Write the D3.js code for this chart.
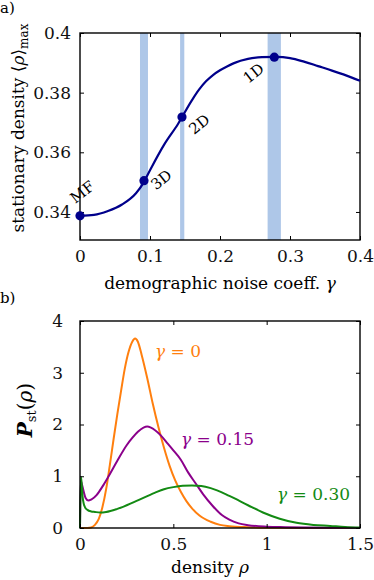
<!DOCTYPE html>
<html>
<head>
<meta charset="utf-8">
<script src="https://cdn.jsdelivr.net/npm/d3@7"></script>
<style>
  body { margin: 0; background: #fff; }
</style>
</head>
<body>
<div id="chart"></div>
<script>
// Panel a: stationary density vs demographic noise
const gammaVals = [0, 0.02, 0.04, 0.06, 0.08, 0.09, 0.10, 0.12, 0.14, 0.16, 0.17, 0.18, 0.19, 0.20, 0.21, 0.22, 0.24, 0.26, 0.28, 0.30, 0.32, 0.34, 0.36, 0.38, 0.40];
const rhoMax = [0.3387, 0.3390, 0.3403, 0.3425, 0.3463, 0.3495, 0.3540, 0.3625, 0.3695, 0.3775, 0.3810, 0.3838, 0.3859, 0.3875, 0.3888, 0.3899, 0.3913, 0.3919, 0.3920, 0.3916, 0.3904, 0.3889, 0.3874, 0.3858, 0.3840];
const pointLabels = ["MF", "3D", "2D", "1D"];
const pointGamma = [0, 0.0914, 0.1457, 0.2776];
const pointRho = [0.3387, 0.3505, 0.3718, 0.3919];
const bandStart = [0.0857, 0.143, 0.268];
const bandEnd = [0.0971, 0.149, 0.287];
const xTicksA = [0, 0.1, 0.2, 0.3, 0.4];
const yTicksA = [0.34, 0.36, 0.38, 0.4];

// Panel b: stationary distributions
const rho0 = [0, 0.04, 0.06, 0.08, 0.10, 0.12, 0.14, 0.16, 0.18, 0.20, 0.22, 0.24, 0.26, 0.28, 0.295, 0.31, 0.33, 0.36, 0.39, 0.42, 0.45, 0.48, 0.51, 0.54, 0.57, 0.60, 0.64, 0.70, 0.75, 0.80, 0.90, 1.0, 1.2, 1.5];
const p0 = [0, 0, 0.01, 0.06, 0.17, 0.40, 0.75, 1.22, 1.72, 2.20, 2.65, 3.08, 3.40, 3.60, 3.66, 3.60, 3.35, 2.90, 2.40, 1.95, 1.55, 1.20, 0.92, 0.70, 0.52, 0.38, 0.24, 0.12, 0.06, 0.035, 0.015, 0.006, 0.001, 0];
const rho15 = [0, 0.004, 0.01, 0.02, 0.03, 0.045, 0.06, 0.09, 0.12, 0.15, 0.20, 0.25, 0.28, 0.31, 0.34, 0.36, 0.38, 0.43, 0.47, 0.50, 0.54, 0.58, 0.62, 0.66, 0.71, 0.76, 0.80, 0.85, 0.90, 1.0, 1.1, 1.2, 1.35, 1.5];
const p15 = [0, 0.92, 0.85, 0.70, 0.58, 0.53, 0.55, 0.64, 0.80, 0.98, 1.30, 1.60, 1.74, 1.86, 1.94, 1.96, 1.94, 1.80, 1.63, 1.50, 1.32, 1.07, 0.86, 0.65, 0.43, 0.25, 0.16, 0.09, 0.055, 0.025, 0.015, 0.008, 0.004, 0.002];
const rho30 = [0, 0.005, 0.01, 0.014, 0.02, 0.027, 0.04, 0.06, 0.08, 0.107, 0.14, 0.20, 0.30, 0.40, 0.45, 0.50, 0.55, 0.60, 0.65, 0.70, 0.80, 0.90, 0.98, 1.07, 1.16, 1.25, 1.34, 1.42, 1.5];
const p30 = [0, 0.99, 0.80, 0.60, 0.47, 0.40, 0.35, 0.32, 0.31, 0.30, 0.31, 0.37, 0.52, 0.68, 0.75, 0.79, 0.815, 0.82, 0.81, 0.77, 0.62, 0.44, 0.30, 0.18, 0.10, 0.06, 0.04, 0.02, 0.01];
const xTicksB = [0, 0.5, 1, 1.5];
const yTicksB = [0, 1, 2, 3, 4];

const FONT = "'DejaVu Serif', serif";
const W = 374, H = 580;
const svg = d3.select("#chart").append("svg").attr("width", W).attr("height", H);

// ---------- panel a ----------
const xA = d3.scaleLinear().domain([0, 0.4]).range([80, 360]);
const yA = d3.scaleLinear().domain([0.3306, 0.4]).range([240, 33]);

const gA = svg.append("g");

gA.selectAll("rect.band")
	.data(bandStart)
	.enter()
	.append("rect")
	.attr("class", "band")
	.attr("x", (d) => xA(d))
	.attr("y", yA(0.4))
	.attr("width", (d, i) => xA(bandEnd[i]) - xA(d))
	.attr("height", yA(0.3306) - yA(0.4))
	.attr("fill", "#aec7e8");

function frame(g, x, y, xt, yt, xFmt, yFmt, pad) {
	const [x0, x1] = x.range();
	const [y0, y1] = y.range();
	g.append("g").attr("transform", `translate(0,${y0})`)
		.call(d3.axisBottom(x).tickValues(xt).tickSize(-4).tickPadding(10).tickFormat(xFmt));
	g.append("g").attr("transform", `translate(0,${y1})`)
		.call(d3.axisTop(x).tickValues(xt).tickSize(-4).tickFormat(""));
	g.append("g").attr("transform", `translate(${x0},0)`)
		.call(d3.axisLeft(y).tickValues(yt).tickSize(-4).tickPadding(pad).tickFormat(yFmt));
	g.append("g").attr("transform", `translate(${x1},0)`)
		.call(d3.axisRight(y).tickValues(yt).tickSize(-4).tickFormat(""));
	g.selectAll(".domain").remove();
	g.selectAll(".tick line").attr("stroke", "#000").attr("stroke-width", 1);
	g.selectAll(".tick text").attr("font-size", 17).attr("fill", "#111");
	g.append("rect")
		.attr("x", x0).attr("y", y1)
		.attr("width", x1 - x0).attr("height", y0 - y1)
		.attr("fill", "none").attr("stroke", "#000").attr("stroke-width", 1.4);
}

frame(gA, xA, yA, xTicksA, yTicksA, (d) => (d === 0 ? "0" : d3.format(".1f")(d)), (d) => (d === 0.4 ? "0.4" : d3.format(".2f")(d)), 9);

const lineA = d3.line()
	.x((d, i) => xA(gammaVals[i]))
	.y((d) => yA(d))
	.curve(d3.curveMonotoneX);

gA.append("path")
	.datum(rhoMax)
	.attr("d", lineA)
	.attr("fill", "none")
	.attr("stroke", "#00008b")
	.attr("stroke-width", 2.2);

gA.selectAll("circle.pt")
	.data(pointGamma)
	.enter()
	.append("circle")
	.attr("cx", (d) => xA(d))
	.attr("cy", (d, i) => yA(pointRho[i]))
	.attr("r", 4.6)
	.attr("fill", "#00008b");

const labelOffsets = [[3, -23], [18, 0], [18, 8], [-20, 17]];
gA.selectAll("text.plab")
	.data(pointLabels)
	.enter()
	.append("text")
	.attr("transform", (d, i) => `translate(${xA(pointGamma[i]) + labelOffsets[i][0]},${yA(pointRho[i]) + labelOffsets[i][1]}) rotate(-38)`)
	.attr("text-anchor", "middle")
	.attr("dominant-baseline", "middle")
	.attr("font-size", 15)
	.text((d) => d);

// axis labels a
gA.append("text")
	.attr("x", 220).attr("y", 289)
	.attr("text-anchor", "middle")
	.attr("font-size", 17)
	.html('demographic noise coeff. <tspan font-style="italic">γ</tspan>');

const yLabA = gA.append("text")
	.attr("transform", "translate(24,128) rotate(-90)")
	.attr("text-anchor", "middle")
	.attr("font-size", 17);
yLabA.append("tspan").text("stationary density ⟨");
yLabA.append("tspan").attr("font-style", "italic").text("ρ");
yLabA.append("tspan").text("⟩");
yLabA.append("tspan").attr("font-size", 12).attr("dy", 4).text("max");

svg.append("text").attr("x", 0).attr("y", 13).attr("font-size", 15).text("a)");
svg.append("text").attr("x", 0).attr("y", 303).attr("font-size", 15).text("b)");

// ---------- panel b ----------
const xB = d3.scaleLinear().domain([0, 1.5]).range([80, 360]);
const yB = d3.scaleLinear().domain([0, 4]).range([528, 321]);
const gB = svg.append("g");

const series = [
	{ xs: rho0, ys: p0, color: "#ff7f0e" },
	{ xs: rho15, ys: p15, color: "#8b008b" },
	{ xs: rho30, ys: p30, color: "#138a13" },
];

series.forEach((s) => {
	const line = d3.line()
		.x((d, i) => xB(s.xs[i]))
		.y((d) => yB(d))
		.curve(d3.curveMonotoneX);
	gB.append("path")
		.datum(s.ys)
		.attr("d", line)
		.attr("fill", "none")
		.attr("stroke", s.color)
		.attr("stroke-width", 2);
});

frame(gB, xB, yB, xTicksB, yTicksB, (d) => String(d), (d) => String(d), 17);

const curveLabels = [
	{ t: "0", x: 155, y: 357, color: "#ff7f0e" },
	{ t: "0.15", x: 181, y: 445, color: "#8b008b" },
	{ t: "0.30", x: 277, y: 500, color: "#138a13" },
];
curveLabels.forEach((c) => {
	const t = gB.append("text")
		.attr("x", c.x).attr("y", c.y)
		.attr("font-size", 17)
		.attr("fill", c.color);
	t.append("tspan").attr("font-style", "italic").text("γ");
	t.append("tspan").text(" = " + c.t);
});

gB.append("text")
	.attr("x", 210).attr("y", 573)
	.attr("text-anchor", "middle")
	.attr("font-size", 17)
	.html('density  <tspan font-style="italic">ρ</tspan>');

const yLabB = gB.append("text")
	.attr("transform", "translate(32,410) rotate(-90)")
	.attr("text-anchor", "middle")
	.attr("font-size", 20);
yLabB.append("tspan").attr("font-style", "italic").attr("font-weight", "bold").text("P");
yLabB.append("tspan").attr("font-size", 13).attr("dy", 4).text("st");
yLabB.append("tspan").attr("dy", -4).text("(");
yLabB.append("tspan").attr("font-style", "italic").text("ρ");
yLabB.append("tspan").text(")");

// serif everywhere (axis groups set their own font-family)
svg.selectAll("text").attr("font-family", FONT);
svg.selectAll("g").filter(function () { return this.hasAttribute("font-family"); }).attr("font-family", FONT);
</script>
</body>
</html>
